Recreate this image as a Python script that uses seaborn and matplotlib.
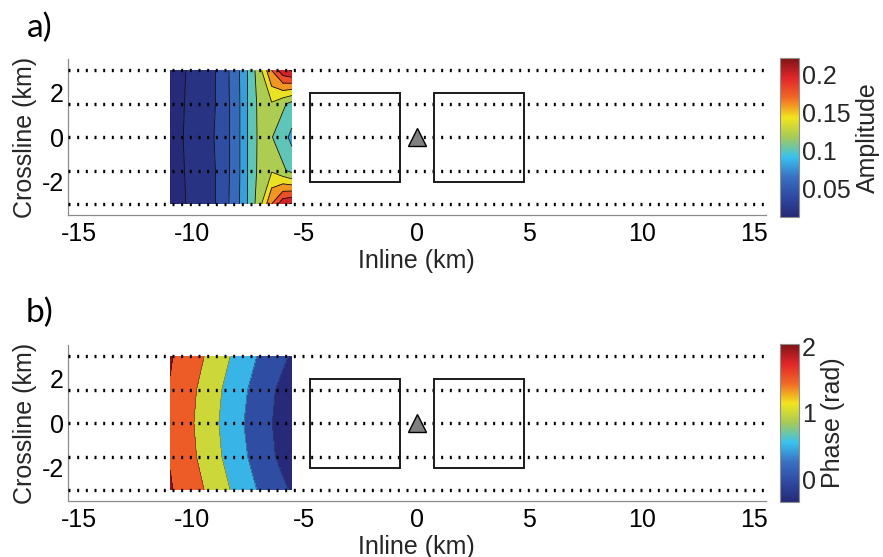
import numpy as np
import matplotlib
matplotlib.use("Agg")
import matplotlib.pyplot as plt
import seaborn as sns
from matplotlib.colors import Normalize
from matplotlib.cm import ScalarMappable
from matplotlib.patches import Rectangle

# grid of the modelled area (km)
inline_km = [-10.95, -10.45, -9.95, -9.45, -8.95, -8.45, -7.95, -7.45, -6.95, -6.45, -5.95, -5.55]
crossline_km = [-3.0, -1.5, 0.0, 1.5, 3.0]

# amplitude along crossline = +-3, +-1.5 and 0
amp_edge = [0.012, 0.017, 0.025, 0.033, 0.040, 0.056, 0.076, 0.104, 0.135, 0.180, 0.214, 0.222]
amp_mid = [0.013, 0.018, 0.026, 0.034, 0.040, 0.055, 0.075, 0.104, 0.128, 0.138, 0.124, 0.113]
amp_centre = [0.012, 0.019, 0.026, 0.033, 0.041, 0.055, 0.075, 0.104, 0.127, 0.121, 0.107, 0.095]

# phase (rad) along the same lines
phase_edge = [2.03, 1.89, 1.70, 1.50, 1.29, 1.07, 0.84, 0.64, 0.43, 0.26, 0.08, -0.05]
phase_mid = [1.98, 1.80, 1.57, 1.35, 1.13, 0.90, 0.68, 0.47, 0.26, 0.06, -0.12, -0.26]
phase_centre = [1.93, 1.75, 1.52, 1.30, 1.07, 0.84, 0.61, 0.40, 0.20, 0.01, -0.17, -0.33]

amp_levels = [0.02, 0.04, 0.06, 0.08, 0.10, 0.12, 0.14, 0.16, 0.18, 0.20, 0.22]
phase_levels = [0.0, 0.5, 1.0, 1.5, 2.0]
amp_ticks = [0.05, 0.1, 0.15, 0.2]
amp_ticklabels = ["0.05", "0.1", "0.15", "0.2"]
phase_ticks = [0, 1, 2]

# survey geometry
profile_y = [-3.0, -1.5, 0.0, 1.5, 3.0]
box_x0 = [-4.75, 0.75]
box_y0 = [-2.0, -2.0]
box_w = [4.0, 4.0]
box_h = [4.0, 4.0]
source_x = [0.0]
source_y = [0.0]
x_ticks = [-15, -10, -5, 0, 5, 10, 15]
y_ticks = [-2, 0, 2]

sns.set_style("white")
plt.rcParams['font.family'] = ['Liberation Sans', 'DejaVu Sans']
plt.rcParams['axes.unicode_minus'] = False

# jet-like map as it looks in the printed figure
cmap = sns.blend_palette(["#262a78", "#2e4aa0", "#3a70c0", "#38c2ee", "#a4ca58",
                          "#f2e41e", "#f06a26", "#e2262a", "#7f1416"], as_cmap=True)

fig = plt.figure(figsize=(8.83, 5.57), dpi=100)
ax_top = fig.add_axes([0.0770, 0.614, 0.7901, 0.2795])
ax_bot = fig.add_axes([0.0770, 0.1005, 0.7901, 0.2795])
cax_top = fig.add_axes([0.8834, 0.611, 0.0215, 0.2844])
cax_bot = fig.add_axes([0.8834, 0.0993, 0.0215, 0.2826])

X, Y = np.meshgrid(inline_km, crossline_km)


def draw_panel(ax, cax, rows, levels, ticks, ticklabels, label, line_w):
    Z = np.vstack(rows)
    zmin, zmax = Z.min(), Z.max()
    norm = Normalize(vmin=zmin, vmax=zmax)
    bounds = [zmin - 1e-6] + list(levels) + [zmax + 1e-6]
    bounds = [b for i, b in enumerate(bounds) if i == 0 or b > bounds[i - 1]]
    # each band takes the colour of its lower level (matlab contourf)
    band_colors = [cmap(norm(max(b, zmin))) for b in bounds[:-1]]
    ax.contourf(X, Y, Z, levels=bounds, colors=band_colors, zorder=1)
    ax.contour(X, Y, Z, levels=levels, colors="#111111", linewidths=line_w, zorder=2)

    ax.hlines(profile_y, -15.5, 15.5, colors="black", linestyles=(0, (0.6, 2.0)),
              linewidth=2.4, zorder=3)
    for x0, y0, w, h in zip(box_x0, box_y0, box_w, box_h):
        ax.add_patch(Rectangle((x0, y0), w, h, fill=False, edgecolor="#1a1a1a",
                               linewidth=1.4, zorder=4))
    ax.plot(source_x, source_y, marker="^", markersize=12.5, color="#808080",
            markeredgecolor="black", markeredgewidth=1.0, linestyle="none", zorder=5)

    ax.set_xlim(-15.5, 15.5)
    ax.set_ylim(-3.5, 3.5)
    ax.set_xticks(x_ticks)
    ax.set_yticks(y_ticks)
    ax.tick_params(direction="in", length=5, width=0.8, color="#8c8c8c",
                   labelsize=18, labelcolor="black")
    ax.tick_params(axis="x", pad=5)
    ax.tick_params(axis="y", pad=3)
    sns.despine(ax=ax)
    for s in ["left", "bottom"]:
        ax.spines[s].set_color("#8c8c8c")
        ax.spines[s].set_linewidth(0.9)
    ax.set_xlabel("Inline (km)", fontsize=18, labelpad=2)
    ax.set_ylabel("Crossline (km)", fontsize=18, labelpad=3)

    cb = fig.colorbar(ScalarMappable(norm=norm, cmap=cmap), cax=cax)
    cb.set_ticks(ticks)
    cb.set_ticklabels(ticklabels)
    cb.ax.tick_params(length=0, labelsize=18, pad=2)
    cb.outline.set_edgecolor("#909090")
    cb.outline.set_linewidth(0.8)
    cb.set_label(label, fontsize=18, labelpad=4)


draw_panel(ax_top, cax_top, [amp_edge, amp_mid, amp_centre, amp_mid, amp_edge],
           amp_levels, amp_ticks, amp_ticklabels, "Amplitude", 0.6)
draw_panel(ax_bot, cax_bot, [phase_edge, phase_mid, phase_centre, phase_mid, phase_edge],
           phase_levels, phase_ticks, [str(t) for t in phase_ticks], "Phase (rad)", 0.25)

fig.text(0.030, 0.934, "a)", fontsize=24, family=["Lato", "DejaVu Sans"], color="black")
fig.text(0.029, 0.422, "b)", fontsize=24, family=["Lato", "DejaVu Sans"], color="black")

fig.savefig("out.png", dpi=100)
